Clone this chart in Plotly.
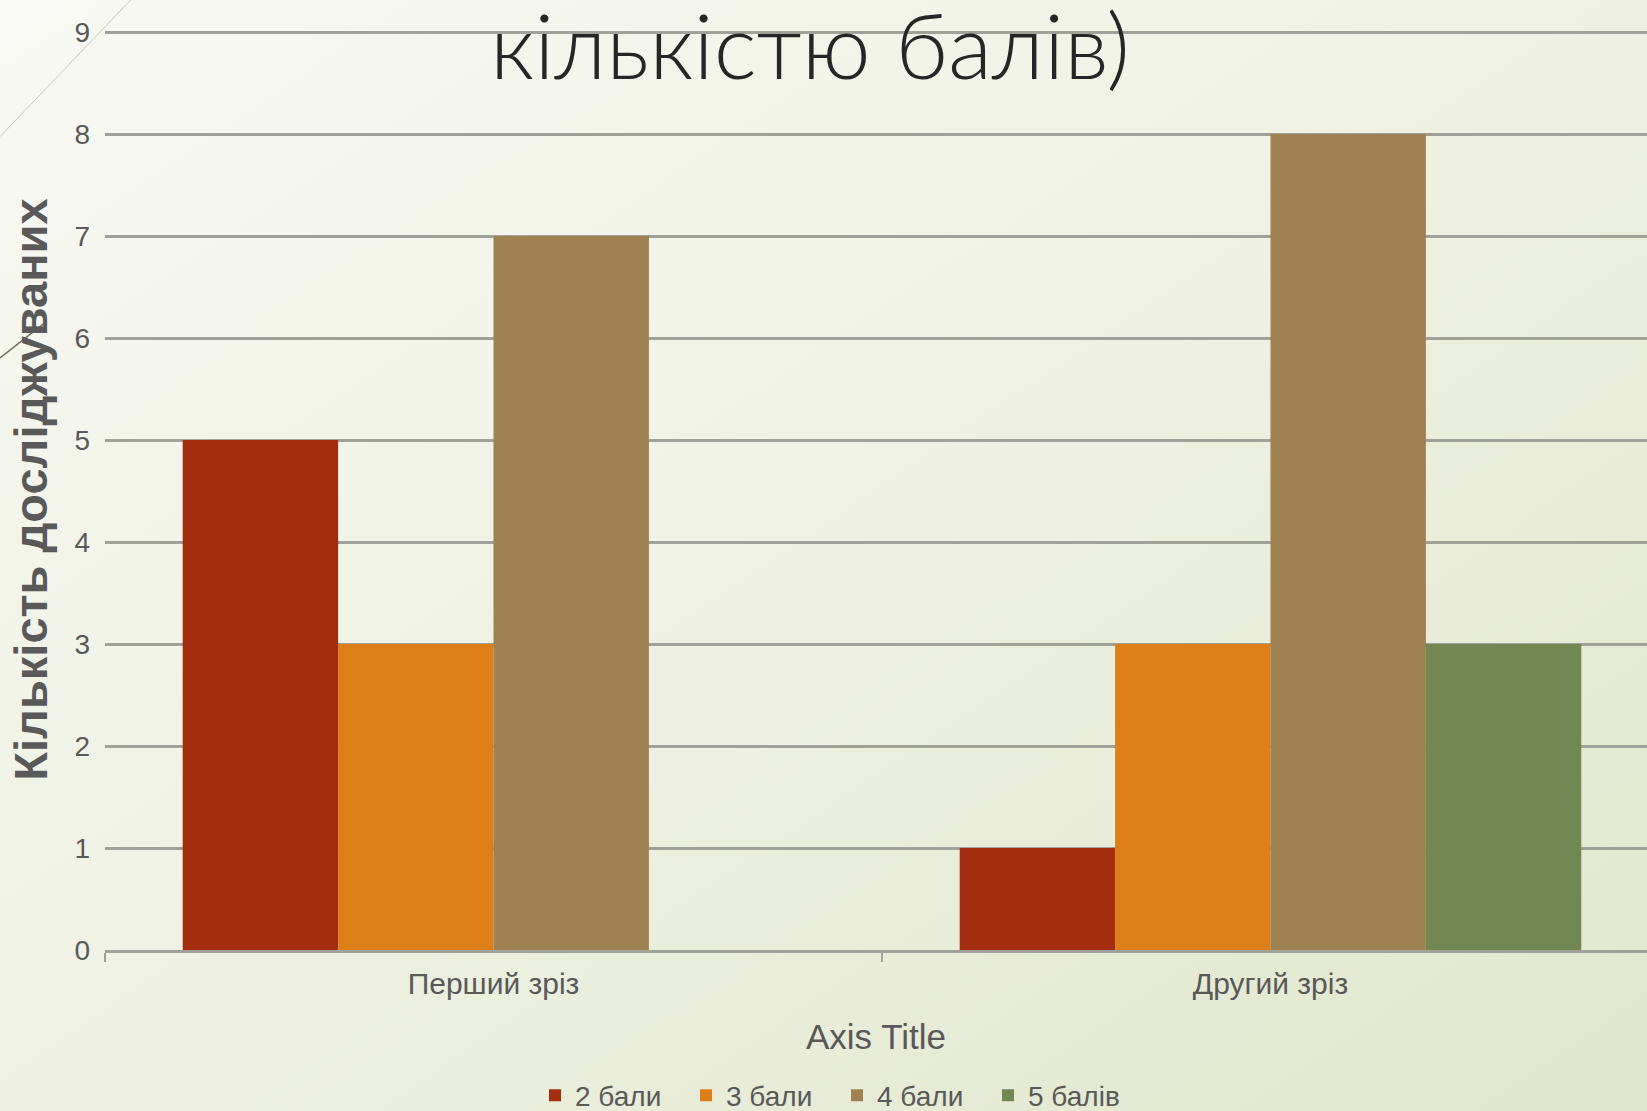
import base64
import plotly.graph_objects as go

# ---- data ----
categories = ["Перший зріз", "Другий зріз"]
series_names = ["2 бали", "3 бали", "4 бали", "5 балів"]
vals_2 = [5, 1]
vals_3 = [3, 3]
vals_4 = [7, 8]
vals_5 = [0, 3]
series_colors = ["#a32e0f", "#de7e19", "#9e8251", "#738753"]
y_ticks = [0, 1, 2, 3, 4, 5, 6, 7, 8, 9]
y_max = 9.03

W, H = 1647, 1111
UNIT = 101.9  # px per y unit
ZERO_PX = 949.6
L, R = 105, 0
T = ZERO_PX - y_max * UNIT
B = H - ZERO_PX
PW, PH = W - L - R, H - T - B


def px2x(px):
    return (px - L) / PW


def py2y(py):
    return (H - B - py) / PH


fig = go.Figure()
for name, vals, col in zip(series_names, [vals_2, vals_3, vals_4, vals_5], series_colors):
    fig.add_trace(go.Bar(x=categories, y=vals, name=name, marker=dict(color=col, line=dict(width=0))))

# gradient background as svg
svg = f'''<svg xmlns="http://www.w3.org/2000/svg" width="{W}" height="{H}" viewBox="0 0 {W} {H}" preserveAspectRatio="none">
<defs><linearGradient id="g" x1="0" y1="0" x2="1" y2="1">
<stop offset="0" stop-color="#f8f9f4"/><stop offset="0.5" stop-color="#eef1e2"/><stop offset="1" stop-color="#e0e6cc"/>
</linearGradient></defs><rect width="{W}" height="{H}" fill="url(#g)"/></svg>'''
src = "data:image/svg+xml;base64," + base64.b64encode(svg.encode()).decode()

gray_txt = "#595959"
grid_col = "#a0a199"

fig.update_layout(
    width=W, height=H,
    margin=dict(l=L, r=R, t=T, b=B, autoexpand=False),
    paper_bgcolor="#eef1e2",
    plot_bgcolor="rgba(0,0,0,0)",
    barmode="group", bargap=0.2, bargroupgap=0,
    font=dict(family="Liberation Sans, Arial", color=gray_txt),
    showlegend=True,
    legend=dict(orientation="h", x=px2x(837), xanchor="center", y=py2y(1095), yanchor="middle",
                font=dict(size=28, color=gray_txt), bgcolor="rgba(0,0,0,0)", itemwidth=30,
                entrywidth=106, entrywidthmode="pixels", tracegroupgap=0),
    images=[dict(source=src, xref="paper", yref="paper", x=px2x(0), y=py2y(0),
                 sizex=W / PW, sizey=H / PH, xanchor="left", yanchor="top",
                 sizing="stretch", layer="below")],
    xaxis=dict(type="category", range=[-0.5, -0.5 + PW / 777.0], showgrid=False,
               showline=True, linecolor=grid_col, linewidth=3,
               ticks="outside", tickson="boundaries", ticklen=9, tickwidth=2, tickcolor=grid_col,
               ticklabelstandoff=5,
               tickfont=dict(size=30, color=gray_txt),
               title=dict(text="Axis Title", font=dict(size=35, color=gray_txt), standoff=26)),
    yaxis=dict(range=[0, y_max], tickvals=y_ticks, showgrid=True, gridcolor=grid_col, gridwidth=3,
               zeroline=False, showline=False, ticks="", ticklabelstandoff=14,
               tickfont=dict(size=28, color=gray_txt),
               title=dict(text="<b>Кількість досліджуваних</b>", font=dict(size=47, color="#595959"),
                          standoff=11)),
    hovermode=False,
)

fig.add_annotation(text="кількістю балів)", xref="paper", yref="paper",
                   x=px2x(810), y=py2y(44), xanchor="center", yanchor="middle",
                   showarrow=False, font=dict(family="Lato, Open Sans", size=91, color="#262626", weight=300))

fig.add_shape(type="line", xref="paper", yref="paper", x0=px2x(131), y0=py2y(0), x1=px2x(0), y1=py2y(137),
              line=dict(color="#c9cabf", width=1))
fig.add_shape(type="line", xref="paper", yref="paper", x0=px2x(0), y0=py2y(358), x1=px2x(46), y1=py2y(322),
              line=dict(color="#6f6e5c", width=1.5))

fig.write_html("out.html", config={"displayModeBar": False},
               post_script="document.body.style.margin='0';document.body.style.overflow='hidden';")
